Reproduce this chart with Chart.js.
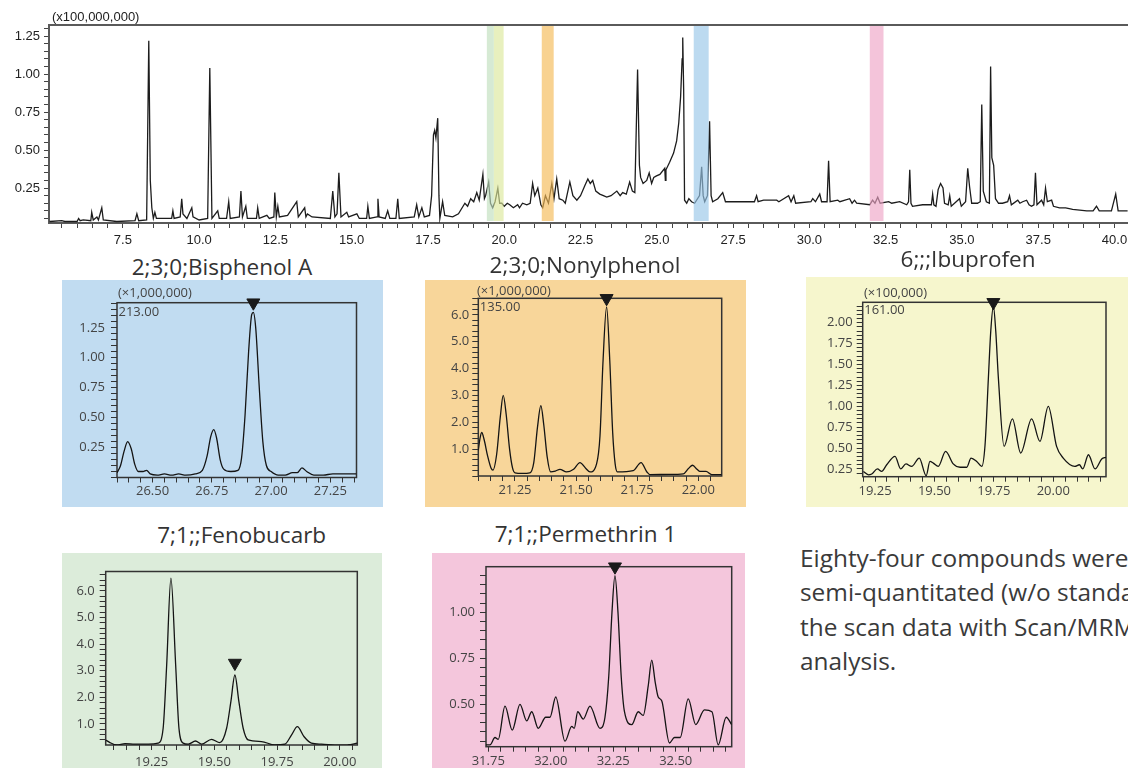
<!DOCTYPE html>
<html>
<head>
<meta charset="utf-8">
<script src="https://cdn.jsdelivr.net/npm/chart.js@4.4.1/dist/chart.umd.min.js"></script>
<style>
  body { margin: 0; width: 1128px; height: 768px; overflow: hidden; position: relative; background: #fff; }
  canvas { position: absolute; }
  .title { position: absolute; width: 300px; text-align: center; font: 400 22.5px/22px "Open Sans", sans-serif; color: #333; white-space: nowrap; }
  #note { position: absolute; left: 800px; top: 540.5px; font: 400 24.4px/34.5px "Open Sans", sans-serif; color: #3a3a3a; white-space: nowrap; }
</style>
</head>
<body>
<canvas id="tic" width="1150" height="250" style="left:0;top:0"></canvas>

<div class="title" style="left:72px;top:255.5px">2;3;0;Bisphenol A</div>
<div class="title" style="left:435px;top:253.8px">2;3;0;Nonylphenol</div>
<div class="title" style="left:818px;top:248.2px">6;;;Ibuprofen</div>
<div class="title" style="left:91.7px;top:523.8px">7;1;;Fenobucarb</div>
<div class="title" style="left:435.5px;top:522.8px">7;1;;Permethrin 1</div>

<canvas id="bpa" width="321" height="227" style="left:62px;top:280px;background:#c1dcf1"></canvas>
<canvas id="np" width="321" height="227" style="left:425px;top:280px;background:#f8d69a"></canvas>
<canvas id="ibu" width="322" height="230" style="left:806px;top:277px;background:#f6f6cd"></canvas>
<canvas id="feno" width="320" height="215" style="left:62px;top:553px;background:#dcecda"></canvas>
<canvas id="perm" width="313" height="215" style="left:432px;top:553px;background:#f4c6dc"></canvas>

<div id="note">Eighty-four compounds were<br>semi-quantitated (w/o standards)<br>the scan data with Scan/MRM<br>analysis.</div>

<script>
// total ion chromatogram (min, x100,000,000)
const ticTime = [
  5.1, 5.5, 5.6, 6.0, 6.05, 6.1, 6.2, 6.45, 6.48, 6.53, 6.65, 6.7, 6.81, 6.86, 7.3, 7.9, 7.96, 8.02,
  8.28, 8.35, 8.4, 8.45, 8.5, 8.55, 8.6, 9.1, 9.14, 9.18, 9.38, 9.43, 9.47, 9.6, 9.76, 9.8, 10.0,
  10.28, 10.35, 10.42, 10.61, 10.66, 10.9, 10.97, 11.02, 11.32, 11.37, 11.42, 11.53, 11.58, 11.88,
  11.92, 11.97, 12.22, 12.3, 12.45, 12.48, 12.53, 12.58, 12.63, 12.9, 13.2, 13.25, 13.46, 13.5,
  13.55, 13.7, 14.3, 14.38, 14.45, 14.52, 14.58, 14.65, 14.84, 14.9, 15.17, 15.25, 15.49, 15.53,
  15.58, 15.83, 15.86, 15.9, 16.1, 16.18, 16.25, 16.45, 16.51, 16.56, 17.05, 17.13, 17.2, 17.3,
  17.38, 17.55, 17.62, 17.68, 17.72, 17.76, 17.82, 17.86, 17.89, 17.98, 18.05, 18.31, 18.5, 18.71,
  18.8, 18.9, 19.0, 19.1, 19.18, 19.3, 19.35, 19.39, 19.49, 19.55, 19.62, 19.7, 19.79, 19.85, 19.92,
  20.0, 20.1, 20.18, 20.3, 20.44, 20.5, 20.6, 20.74, 20.85, 20.93, 21.0, 21.1, 21.2, 21.26, 21.35,
  21.45, 21.56, 21.63, 21.72, 21.8, 21.92, 22.0, 22.15, 22.25, 22.38, 22.5, 22.65, 22.74, 22.82,
  22.9, 23.0, 23.13, 23.25, 23.36, 23.5, 23.69, 23.8, 23.88, 24.0, 24.11, 24.2, 24.28, 24.37, 24.43,
  24.47, 24.55, 24.67, 24.75, 24.83, 24.9, 24.99, 25.1, 25.26, 25.28, 25.3, 25.42, 25.55, 25.65,
  25.72, 25.78, 25.83, 25.85, 25.88, 25.91, 25.98, 26.05, 26.14, 26.24, 26.4, 26.47, 26.52, 26.57,
  26.66, 26.73, 26.78, 26.83, 27.0, 27.16, 27.25, 27.39, 27.62, 28.04, 28.2, 28.27, 28.32, 28.5,
  28.93, 29.0, 29.32, 29.4, 29.49, 29.55, 30.05, 30.11, 30.2, 30.34, 30.4, 30.58, 30.63, 30.68,
  30.93, 31.0, 31.32, 31.4, 31.48, 31.55, 31.98, 32.07, 32.15, 32.24, 32.32, 32.6, 32.7, 32.96,
  33.19, 33.25, 33.29, 33.33, 33.38, 33.71, 34.0, 34.04, 34.08, 34.15, 34.22, 34.3, 34.38, 34.43,
  34.55, 34.6, 34.65, 34.92, 34.98, 35.12, 35.19, 35.25, 35.32, 35.51, 35.6, 35.65, 35.7, 35.8,
  35.9, 35.94, 35.98, 36.04, 36.1, 36.2, 36.33, 36.5, 36.56, 36.62, 36.83, 36.9, 36.99, 37.12,
  37.2, 37.28, 37.36, 37.41, 37.46, 37.61, 37.68, 37.74, 37.8, 37.94, 38.0, 38.2, 38.4, 38.63,
  39.09, 39.3, 39.41, 39.5, 39.9, 40.04, 40.12, 40.43
];
const ticIntensity = [
  0.03, 0.035, 0.03, 0.03, 0.05, 0.035, 0.04, 0.035, 0.09, 0.04, 0.06, 0.04, 0.12, 0.04, 0.03, 0.035, 0.08, 0.035,
  0.04, 1.22, 0.3, 0.12, 0.05, 0.09, 0.05, 0.05, 0.1, 0.05, 0.06, 0.18, 0.08, 0.05, 0.12, 0.06, 0.04,
  0.05, 1.04, 0.05, 0.1, 0.05, 0.05, 0.16, 0.05, 0.06, 0.23, 0.06, 0.13, 0.05, 0.05,
  0.12, 0.05, 0.07, 0.05, 0.06, 0.22, 0.06, 0.13, 0.06, 0.07, 0.16, 0.06, 0.12, 0.06,
  0.08, 0.06, 0.05, 0.23, 0.06, 0.08, 0.35, 0.06, 0.09, 0.06, 0.08, 0.05, 0.05, 0.13,
  0.05, 0.06, 0.18, 0.06, 0.05, 0.1, 0.05, 0.05, 0.18, 0.05, 0.06, 0.14, 0.06, 0.12,
  0.06, 0.07, 0.2, 0.6, 0.63, 0.58, 0.71, 0.2, 0.05, 0.16, 0.07, 0.06, 0.08, 0.15,
  0.13, 0.18, 0.16, 0.22, 0.17, 0.34, 0.18, 0.2, 0.29, 0.15, 0.12, 0.16, 0.25, 0.15, 0.15,
  0.13, 0.15, 0.14, 0.12, 0.14, 0.12, 0.15, 0.14, 0.15, 0.28, 0.2, 0.25, 0.14, 0.12, 0.2,
  0.15, 0.28, 0.18, 0.31, 0.18, 0.17, 0.15, 0.29, 0.2, 0.17, 0.2, 0.27, 0.31, 0.28,
  0.3, 0.23, 0.21, 0.2, 0.19, 0.2, 0.23, 0.2, 0.22, 0.21, 0.29, 0.23, 0.22, 1.03, 0.4,
  0.32, 0.28, 0.3, 0.35, 0.28, 0.32, 0.33, 0.34, 0.38, 0.3, 0.37, 0.42, 0.48, 0.56,
  0.68, 0.85, 1.1, 1.24, 0.9, 0.17, 0.15, 0.18, 0.16, 0.15, 0.2, 0.39, 0.2, 0.16,
  0.2, 0.69, 0.2, 0.16, 0.18, 0.22, 0.16, 0.16, 0.16, 0.16, 0.16, 0.2, 0.16, 0.17,
  0.17, 0.16, 0.2, 0.16, 0.2, 0.15, 0.16, 0.18, 0.16, 0.21, 0.16, 0.16, 0.43, 0.16,
  0.17, 0.16, 0.18, 0.15, 0.17, 0.15, 0.14, 0.17, 0.15, 0.19, 0.15, 0.16, 0.15, 0.16,
  0.14, 0.16, 0.37, 0.15, 0.13, 0.14, 0.14, 0.21, 0.14, 0.13, 0.24, 0.28, 0.25, 0.15,
  0.14, 0.2, 0.13, 0.18, 0.13, 0.16, 0.38, 0.26, 0.15, 0.15, 0.16, 0.8, 0.23, 0.16,
  0.15, 1.05, 0.45, 0.4, 0.18, 0.15, 0.15, 0.16, 0.2, 0.14, 0.17, 0.15, 0.16, 0.17,
  0.14, 0.13, 0.14, 0.35, 0.14, 0.17, 0.14, 0.25, 0.16, 0.17, 0.13, 0.12, 0.12, 0.11,
  0.1, 0.1, 0.13, 0.1, 0.1, 0.21, 0.1, 0.1
];
// highlighted retention windows on the TIC (min)
const bandFrom = [19.43, 19.66, 21.23, 26.21, 31.98];
const bandTo = [19.66, 19.98, 21.62, 26.70, 32.43];
const bandColors = ["#c0dfbd", "#dce89b", "#f4ba56", "#98c6e8", "#eea4c6"];

// extracted ion chromatograms
const bpaTime = [26.35, 26.365, 26.38, 26.395, 26.41, 26.425, 26.44, 26.46, 26.475, 26.49, 26.52, 26.55, 26.58, 26.61,
  26.64, 26.68, 26.71, 26.73, 26.745, 26.758, 26.77, 26.785, 26.80, 26.83, 26.86, 26.875, 26.89, 26.905, 26.918,
  26.925, 26.935, 26.95, 26.965, 26.98, 27.0, 27.03, 27.06, 27.09, 27.11, 27.13, 27.15, 27.18, 27.22, 27.26, 27.3, 27.36];
const bpaIntensity = [0.04, 0.10, 0.22, 0.30, 0.24, 0.11, 0.05, 0.05, 0.06, 0.03, 0.02, 0.03, 0.02, 0.03,
  0.02, 0.03, 0.06, 0.18, 0.34, 0.40, 0.33, 0.15, 0.07, 0.05, 0.06, 0.16, 0.52, 1.05, 1.36,
  1.38, 1.25, 0.75, 0.30, 0.10, 0.05, 0.02, 0.02, 0.04, 0.04, 0.08, 0.05, 0.02, 0.02, 0.03, 0.03, 0.03];

const npTime = [21.100, 21.107, 21.114, 21.124, 21.138, 21.152, 21.160, 21.175, 21.190, 21.202, 21.214, 21.228,
  21.240, 21.250, 21.280, 21.311, 21.327, 21.342, 21.356, 21.368, 21.382, 21.396, 21.415, 21.434, 21.461, 21.490,
  21.516, 21.540, 21.557, 21.584, 21.598, 21.610, 21.625, 21.638, 21.650, 21.660, 21.669, 21.734, 21.766, 21.790,
  21.802, 21.880, 21.939, 21.960, 21.977, 21.995, 22.007, 22.032, 22.055, 22.096];
const npIntensity = [0.95, 1.40, 1.62, 1.35, 0.75, 0.30, 0.22, 0.8, 2.2, 3.0, 2.3, 1.0,
  0.3, 0.12, 0.10, 0.12, 0.5, 1.8, 2.62, 1.9, 0.7, 0.15, 0.18, 0.25, 0.15, 0.25,
  0.50, 0.28, 0.15, 0.45, 1.5, 4.2, 6.3, 4.3, 1.6, 0.45, 0.15, 0.2, 0.5, 0.15,
  0.05, 0.06, 0.08, 0.28, 0.40, 0.25, 0.17, 0.17, 0.05, 0.05];

const ibuTime = [19.201, 19.222, 19.236, 19.260, 19.278, 19.299, 19.334, 19.358, 19.380, 19.404, 19.436, 19.465,
  19.481, 19.495, 19.516, 19.547, 19.579, 19.608, 19.636, 19.654, 19.678, 19.699, 19.713, 19.727, 19.737, 19.748,
  19.758, 19.769, 19.793, 19.828, 19.863, 19.909, 19.944, 19.979, 20.014, 20.042, 20.091, 20.110, 20.124, 20.148,
  20.176, 20.204, 20.222];
const ibuIntensity = [0.22, 0.18, 0.19, 0.25, 0.22, 0.30, 0.40, 0.25, 0.31, 0.28, 0.38, 0.17,
  0.34, 0.32, 0.28, 0.46, 0.31, 0.27, 0.27, 0.38, 0.34, 0.28, 0.54, 1.34, 1.9, 2.20,
  1.9, 1.34, 0.52, 0.85, 0.44, 0.85, 0.58, 1.00, 0.52, 0.38, 0.28, 0.30, 0.25, 0.42,
  0.25, 0.37, 0.39];

const fenoTime = [19.067, 19.084, 19.111, 19.144, 19.184, 19.237, 19.276, 19.296, 19.31, 19.327, 19.346, 19.359,
  19.376, 19.396, 19.425, 19.449, 19.489, 19.522, 19.549, 19.566, 19.582, 19.598, 19.615, 19.635, 19.688, 19.741,
  19.781, 19.808, 19.831, 19.858, 19.887, 19.927, 19.980, 20.032, 20.07];
const fenoIntensity = [0.40, 0.30, 0.21, 0.26, 0.24, 0.24, 0.28, 0.84, 3.2, 6.48, 3.2, 0.84,
  0.28, 0.24, 0.36, 0.24, 0.42, 0.30, 0.84, 1.84, 2.84, 1.84, 0.84, 0.40, 0.34, 0.21,
  0.24, 0.59, 0.90, 0.52, 0.28, 0.24, 0.20, 0.21, 0.28];

const permTime = [31.741, 31.757, 31.777, 31.790, 31.817, 31.846, 31.877, 31.904, 31.924, 31.950, 31.980, 31.997,
  32.020, 32.057, 32.084, 32.094, 32.108, 32.130, 32.157, 32.197, 32.217, 32.232, 32.245, 32.257, 32.269, 32.282,
  32.295, 32.324, 32.350, 32.370, 32.390, 32.404, 32.418, 32.430, 32.444, 32.475, 32.495, 32.518, 32.550, 32.580,
  32.615, 32.645, 32.670, 32.702, 32.724];
const permIntensity = [0.28, 0.28, 0.32, 0.31, 0.49, 0.36, 0.50, 0.41, 0.46, 0.37, 0.43, 0.43,
  0.54, 0.30, 0.38, 0.37, 0.46, 0.42, 0.49, 0.37, 0.43, 0.65, 1.0, 1.20, 1.0, 0.65,
  0.46, 0.39, 0.46, 0.44, 0.60, 0.74, 0.62, 0.54, 0.52, 0.29, 0.32, 0.32, 0.53, 0.39,
  0.47, 0.46, 0.28, 0.43, 0.39];

// peak markers [time, intensity]
const bpaMark = [26.925, 1.46];
const npMark = [21.625, 6.62];
const ibuMark = [19.748, 2.245];
const fenoMark = [19.582, 3.29];
const permMark = [32.257, 1.248];

function near(v, step) {
  return Math.abs(v / step - Math.round(v / step)) < 1e-6;
}

function toPoints(xs, ys) {
  return xs.map((x, i) => ({ x: x, y: ys[i] }));
}

// frame, scale labels and (optionally) highlight bands
function decor(o) {
  return {
    id: "decor",
    beforeDatasetsDraw(chart) {
      const a = chart.chartArea;
      const ctx = chart.ctx;
      ctx.save();
      ctx.strokeStyle = o.frameColor;
      ctx.lineWidth = o.frameWidth;
      ctx.strokeRect(a.left, a.top, a.right - a.left, a.bottom - a.top);
      ctx.fillStyle = o.textColor;
      ctx.font = o.font;
      ctx.textBaseline = "middle";
      if (o.scaleLabel) ctx.fillText(o.scaleLabel, a.left + o.scaleDx, a.top - o.scaleDy);
      if (o.ionLabel) ctx.fillText(o.ionLabel, a.left + 1.5, a.top + o.ionDy);
      ctx.restore();
    },
    afterDatasetsDraw(chart) {
      if (!o.bandFrom) return;
      const a = chart.chartArea;
      const x = chart.scales.x;
      const ctx = chart.ctx;
      ctx.save();
      ctx.globalAlpha = 0.65;
      o.bandFrom.forEach((from, i) => {
        const l = x.getPixelForValue(from);
        const r = x.getPixelForValue(o.bandTo[i]);
        ctx.fillStyle = o.bandColors[i];
        ctx.fillRect(l, a.top + 1, r - l, a.bottom - a.top - 3);
      });
      ctx.restore();
    },
  };
}

// main TIC
new Chart(document.getElementById("tic"), {
  type: "line",
  data: {
    datasets: [
      {
        data: toPoints(ticTime, ticIntensity),
        borderColor: "#1c1c1c",
        borderWidth: 1.3,
        pointRadius: 0,
        tension: 0,
      },
    ],
  },
  options: {
    responsive: false,
    animation: false,
    events: [],
    layout: { padding: { top: 25, right: 5, left: 0, bottom: 0 } },
    plugins: { legend: { display: false }, tooltip: { enabled: false } },
    scales: {
      x: {
        type: "linear",
        min: 5.08,
        max: 41.0,
        afterFit: (s) => { s.height = 27; },
        border: { display: false },
        grid: { drawOnChartArea: false, tickLength: 5, color: "#444" },
        ticks: {
          stepSize: 0.5,
          autoSkip: false,
          maxRotation: 0,
          includeBounds: false,
          padding: 4.5,
          color: "#222",
          font: { family: "Liberation Sans", size: 13 },
          callback: (v) => (near(v, 2.5) ? v.toFixed(1) : ""),
        },
      },
      y: {
        min: 0.02,
        max: 1.323,
        afterFit: (s) => { s.width = 49; },
        border: { display: false },
        grid: { drawOnChartArea: false, tickLength: 5, color: "#444" },
        ticks: {
          stepSize: 0.05,
          autoSkip: false,
          includeBounds: false,
          padding: 4,
          color: "#222",
          font: { family: "Liberation Sans", size: 13 },
          callback: (v) => (near(v, 0.25) ? v.toFixed(2) : ""),
        },
      },
    },
  },
  plugins: [
    decor({
      frameColor: "#5a5a5a",
      frameWidth: 2,
      textColor: "#222",
      font: '13px "Liberation Sans"',
      scaleLabel: "(x100,000,000)",
      scaleDx: 3,
      scaleDy: 8,
      bandFrom: bandFrom,
      bandTo: bandTo,
      bandColors: bandColors,
    }),
  ],
});

// one extracted-ion panel
function makeInset(id, o) {
  return new Chart(document.getElementById(id), {
    type: "line",
    data: {
      datasets: [
        {
          data: toPoints(o.time, o.intensity),
          borderColor: "#141414",
          borderWidth: 1.3,
          pointRadius: 0,
          cubicInterpolationMode: "monotone",
        },
        {
          data: [{ x: o.mark[0], y: o.mark[1] }],
          showLine: false,
          pointStyle: "triangle",
          rotation: 180,
          pointRadius: 7.5,
          backgroundColor: "#1a1a1a",
          borderColor: "#1a1a1a",
          borderWidth: 1,
          clip: false,
        },
      ],
    },
    options: {
      responsive: false,
      animation: false,
      events: [],
      layout: { padding: { top: o.top, right: o.right, left: 0, bottom: 0 } },
      plugins: { legend: { display: false }, tooltip: { enabled: false } },
      scales: {
        x: {
          type: "linear",
          min: o.xMin,
          max: o.xMax,
          afterFit: (s) => { s.height = o.xh; },
          border: { display: false },
          grid: { drawOnChartArea: false, tickLength: 5, color: "#333" },
          ticks: {
            stepSize: 0.05,
            autoSkip: false,
            maxRotation: 0,
            includeBounds: false,
            padding: o.xPad,
            color: "#444",
            font: { family: "Open Sans", size: 13 },
            callback: (v) => (near(v, 0.25) ? v.toFixed(2) : ""),
          },
        },
        y: {
          min: o.yMin,
          max: o.yMax,
          afterFit: (s) => { s.width = o.yw; },
          border: { display: false },
          grid: { drawOnChartArea: false, tickLength: 6, color: "#333" },
          ticks: {
            stepSize: o.yStep,
            autoSkip: false,
            includeBounds: false,
            padding: o.yPad,
            color: "#444",
            font: { family: "Open Sans", size: 13 },
            callback: (v) => (near(v, o.yMajor) && v > 0.01 ? v.toFixed(o.yDigits) : ""),
          },
        },
      },
    },
    plugins: [
      decor({
        frameColor: "#333",
        frameWidth: 1.5,
        textColor: "#444",
        font: '13px "Open Sans"',
        scaleLabel: o.scaleLabel,
        scaleDx: o.scaleDx,
        scaleDy: o.scaleDy,
        ionLabel: o.ionLabel,
        ionDy: o.ionDy,
      }),
    ],
  });
}

makeInset("bpa", {
  time: bpaTime, intensity: bpaIntensity, mark: bpaMark,
  xMin: 26.35, xMax: 27.36, yMin: 0, yMax: 1.46, yStep: 0.05, yMajor: 0.25, yDigits: 2,
  top: 22.7, right: 26.5, xh: 29.5, yw: 55, xPad: 0.5, yPad: 6,
  scaleLabel: "(×1,000,000)", scaleDx: 1, scaleDy: 9.7, ionLabel: "213.00", ionDy: 9.3,
});
makeInset("np", {
  time: npTime, intensity: npIntensity, mark: npMark,
  xMin: 21.1, xMax: 22.096, yMin: 0, yMax: 6.62, yStep: 0.2, yMajor: 1, yDigits: 1,
  top: 18.3, right: 24.3, xh: 31, yw: 53.3, xPad: 1.2, yPad: 3,
  scaleLabel: "(×1,000,000)", scaleDx: -1.3, scaleDy: 6.6, ionLabel: "135.00", ionDy: 8.7,
});
makeInset("ibu", {
  time: ibuTime, intensity: ibuIntensity, mark: ibuMark,
  xMin: 19.198, xMax: 20.222, yMin: 0.157, yMax: 2.245, yStep: 0.05, yMajor: 0.25, yDigits: 2,
  top: 25.3, right: 22, xh: 30.3, yw: 56.7, xPad: 2.2, yPad: 4,
  scaleLabel: "(×100,000)", scaleDx: 1.3, scaleDy: 9, ionLabel: "161.00", ionDy: 7.7,
});
makeInset("feno", {
  time: fenoTime, intensity: fenoIntensity, mark: fenoMark,
  xMin: 19.067, xMax: 20.07, yMin: 0.21, yMax: 6.73, yStep: 0.2, yMajor: 1, yDigits: 1,
  top: 18.5, right: 24.7, xh: 23, yw: 43.7, xPad: 4.2, yPad: 5,
});
makeInset("perm", {
  time: permTime, intensity: permIntensity, mark: permMark,
  xMin: 31.741, xMax: 32.724, yMin: 0.27, yMax: 1.248, yStep: 0.05, yMajor: 0.25, yDigits: 2,
  top: 13.7, right: 13.3, xh: 21.3, yw: 54, xPad: 2.2, yPad: 5,
});
</script>
</body>
</html>
